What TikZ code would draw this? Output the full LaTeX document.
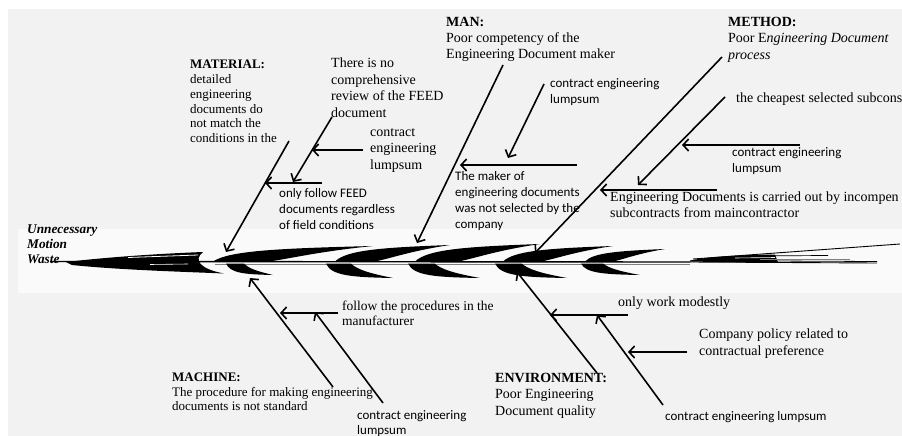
\documentclass[tikz,border=0pt]{standalone}
\usepackage{fontspec}
\setmainfont{Liberation Serif}
\newfontfamily\calib{Carlito}
\usetikzlibrary{arrows.meta}
\definecolor{bggray}{RGB}{242,242,242}
\definecolor{bandcol}{RGB}{250,250,250}
\newcommand{\fbupper}[3]{% x0, L, h : upper arm of a chevron
  \fill[shift={(#1,262)}] (0,-0.5) .. controls (0.1*#2,-0.7*#3) and (0.4*#2,-0.85*#3) .. (#2,-#3)
     .. controls (0.6*#2,-0.6*#3) and (0.4*#2,0) .. (0.3*#2,0) -- cycle;}
\newcommand{\fblower}[3]{% x0, M, d : lower arm of a chevron
  \fill[shift={(#1,262)}] (-2,1.5) .. controls (0.05*#2,0.85*#3) and (0.35*#2,0.95*#3) .. (#2,#3)
     .. controls (0.6*#2,0.68*#3) and (0.45*#2,0.45*#3) .. (0.35*#2,1.5) -- cycle;}
\begin{document}
\begin{tikzpicture}[x=1pt,y=-1pt,
  tnr/.style={inner sep=0pt, anchor=north west, align=left, font=\fontsize{14}{16.5}\selectfont},
  tnrs/.style={inner sep=0pt, anchor=north west, align=left, font=\fontsize{13}{14.8}\selectfont},
  cal/.style={inner sep=0pt, anchor=north west, align=left, font=\calib\fontsize{13}{16}\selectfont},
  arr/.style={line width=1.6pt, -{Straight Barb[length=5.5pt,width=12pt]}}]
\useasboundingbox (0,0) rectangle (902,436);
\fill[white] (0,0) rectangle (902,436);
\fill[bggray] (8,9) rectangle (902,436);
\fill[bandcol] (18,229) rectangle (902,293);

% ---------- fish skeleton ----------
\draw[line width=1.4pt] (50,261.5) -- (690,262);
\draw[line width=0.9pt, gray] (215,264) -- (690,264);
\draw[line width=0.9pt] (690,262) -- (877,263);
% big left wedge
\fill (66,262) .. controls (100,258) and (150,254) .. (203,252)
   .. controls (193,260) and (200,269) .. (224,273.5)
   .. controls (190,272) and (120,270) .. (72,265) -- cycle;
\draw[white, line width=0.8pt] (128,257.5) -- (198,255);
\draw[white, line width=0.6pt] (150,264.5) -- (188,264);
% chevrons
\fbupper{213}{160}{16}\fblower{228}{45}{13}
\fbupper{335}{115}{17}\fblower{328}{65}{16}
\fbupper{415}{125}{18}\fblower{410}{70}{16}
\fbupper{503}{110}{16}\fblower{497}{70}{16}
\fbupper{585}{80}{13}\fblower{583}{57}{13}
% right feathered tail
\fill (690,260.5) .. controls (710,256.5) and (740,255) .. (775,254.5)
   -- (778,262.5) .. controls (745,262.5) and (715,262) .. (690,261.5) -- cycle;
\draw[white, line width=0.6pt] (735,258) -- (775,257.5);
\draw[line width=0.9pt] (693,259) -- (900,244);
\draw[line width=0.7pt] (740,256) -- (828,255.5);
\draw[line width=0.7pt, gray] (760,259) -- (850,259);
\draw[line width=0.8pt] (770,261) -- (877,261.5);

% ---------- texts ----------
\node[font=\bfseries\itshape\fontsize{13.3}{15}\selectfont, inner sep=0pt, anchor=north west, align=left] (head) at (27,225) {Unnecessary\\Motion\\Waste};

\node[tnrs] (matT) at (190,60) {\textbf{MATERIAL:}\\detailed\\engineering\\documents do\\not match the\\conditions in the};
\node[tnr] (mat1) at (331,58) {There is no\\comprehensive\\review of the FEED\\document};
\node[tnr] (mat2) at (370,128) {contract\\engineering\\lumpsum};
\node[cal] (mat3) at (279,188) {only follow FEED\\documents regardless\\of field conditions};

\node[tnr, font=\fontsize{14}{16}\selectfont] (manT) at (446,17) {\textbf{MAN:}\\Poor competency of the\\Engineering Document maker};
\node[cal] (man1) at (550,78) {contract engineering\\lumpsum};
\node[cal] (man2) at (455,171) {The maker of\\engineering documents\\was not selected by the\\company};

\node[tnr] (metT) at (728,17) {\textbf{METHOD:}\\Poor E\textit{ngineering Document}\\\textit{process}};
\node[tnr] (met1) at (736,93) {the cheapest selected subcons};
\node[cal] (met2) at (732,147) {contract engineering\\lumpsum};
\node[tnr, font=\fontsize{14}{16}\selectfont] (met3) at (610,192) {Engineering Documents is carried out by incompen\\subcontracts from maincontractor};

\node[tnrs, font=\fontsize{13}{14.5}\selectfont] (macT) at (172,373) {\textbf{MACHINE:}\\The procedure for making engineering\\documents is not standard};
\node[tnr, font=\fontsize{13.5}{15}\selectfont] (mac1) at (342,301) {follow the procedures in the\\manufacturer};
\node[cal, font=\calib\fontsize{13}{15}\selectfont] (mac2) at (357,410) {contract engineering\\lumpsum};

\node[tnr] (envT) at (495,373) {\textbf{ENVIRONMENT:}\\Poor Engineering\\Document quality};
\node[tnr] (env1) at (618,297) {only work modestly};
\node[tnr] (env2) at (699,329) {Company policy related to\\contractual preference};
\node[cal] (env3) at (665,411) {contract engineering lumpsum};

% ---------- connectors ----------
\coordinate (a1s) at (289,141); \coordinate (a1e) at (226,252);
\coordinate (a2s) at (332,117); \coordinate (a2e) at (293,182);
\coordinate (a3s) at (363,150); \coordinate (a3e) at (312,150);
\coordinate (a4s) at (322,183); \coordinate (a4e) at (265,183);
\coordinate (b1s) at (503,65);  \coordinate (b1e) at (417,243);
\coordinate (b2s) at (544,84);  \coordinate (b2e) at (508,158);
\coordinate (b3s) at (577,165); \coordinate (b3e) at (460,165);
\coordinate (c1s) at (722,57);  \coordinate (c1e) at (535,253);
\coordinate (c2s) at (725,97);  \coordinate (c2e) at (638,185);
\coordinate (c3s) at (800,145); \coordinate (c3e) at (682,145);
\coordinate (c4s) at (717,190); \coordinate (c4e) at (600,190);
\coordinate (d1s) at (333,387); \coordinate (d1e) at (250,278);
\coordinate (d2s) at (383,403); \coordinate (d2e) at (315,312);
\coordinate (d3s) at (338,313); \coordinate (d3e) at (280,313);
\coordinate (e1s) at (597,373); \coordinate (e1e) at (517,272);
\coordinate (e2s) at (663,405); \coordinate (e2e) at (597,315);
\coordinate (e3s) at (628,315); \coordinate (e3e) at (550,315);
\coordinate (e4s) at (687,352); \coordinate (e4e) at (628,352);
\foreach \n in {a1,a2,a3,a4,b1,b2,b3,c1,c2,c3,c4,d1,d2,d3,e1,e2,e3,e4}
  \draw[arr] (\n s) -- (\n e);
\end{tikzpicture}
\end{document}
